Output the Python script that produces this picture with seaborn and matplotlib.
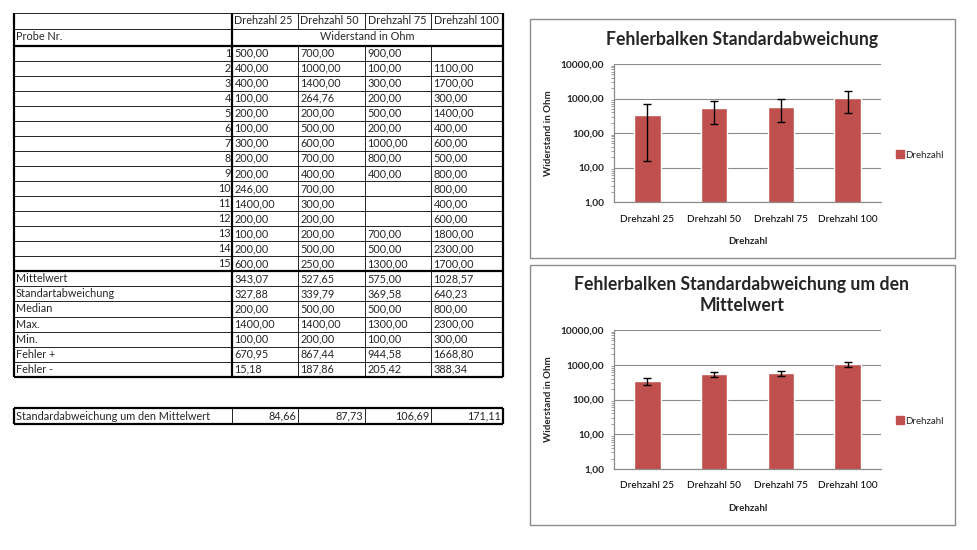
import matplotlib
matplotlib.use("Agg")
import matplotlib.pyplot as plt
from matplotlib.lines import Line2D
from matplotlib.patches import Rectangle
from matplotlib.ticker import FixedLocator, FuncFormatter, NullFormatter
import numpy as np
import pandas as pd
import seaborn as sns

# ---------------- data ----------------
categories = ["Drehzahl 25", "Drehzahl 50", "Drehzahl 75", "Drehzahl 100"]
probe_nr = list(range(1, 16))
d25 = [500, 400, 400, 100, 200, 100, 300, 200, 200, 246, 1400, 200, 100, 200, 600]
d50 = [700, 1000, 1400, 264.76, 200, 500, 600, 700, 400, 700, 300, 200, 200, 500, 250]
d75 = [900, 100, 300, 200, 500, 200, 1000, 800, 400, None, None, None, 700, 500, 1300]
d100 = [None, 1100, 1700, 300, 1400, 400, 600, 500, 800, 800, 400, 600, 1800, 2300, 1700]

stat_labels = ["Mittelwert", "Standartabweichung", "Median", "Max.", "Min.", "Fehler +", "Fehler -"]
mittelwert = [343.07, 527.65, 575.00, 1028.57]
std_abw = [327.88, 339.79, 369.58, 640.23]
median = [200.00, 500.00, 500.00, 800.00]
maximum = [1400.00, 1400.00, 1300.00, 2300.00]
minimum = [100.00, 200.00, 100.00, 300.00]
fehler_plus = [670.95, 867.44, 944.58, 1668.80]
fehler_minus = [15.18, 187.86, 205.42, 388.34]
sem_label = "Standardabweichung um den Mittelwert"
sem = [84.66, 87.73, 106.69, 171.11]

title1 = "Fehlerbalken Standardabweichung"
title2 = "Fehlerbalken Standardabweichung um den\nMittelwert"
ylabel = "Widerstand in Ohm"
xlabel = "Drehzahl"
legend_label = "Drehzahl"
yticks = [1, 10, 100, 1000, 10000]

BAR = "#C0504D"

def de(v):
    return f"{v:.2f}".replace(".", ",")

# ---------------- figure ----------------
sns.set_theme(style="white")
plt.rcParams["font.family"] = ["Lato", "DejaVu Sans"]

W, H = 977, 550
fig = plt.figure(figsize=(W / 100, H / 100), dpi=100)
fig.patch.set_facecolor("white")

tab = fig.add_axes([0, 0, 1, 1], zorder=0)
tab.set_xlim(0, W)
tab.set_ylim(H, 0)
tab.axis("off")

FS = 7.8
THIN = 0.6
THICK = 1.6

def hline(y, x0, x1, lw):
    tab.add_line(Line2D([x0, x1], [y, y], color="black", lw=lw, solid_capstyle="butt"))

def vline(x, y0, y1, lw):
    tab.add_line(Line2D([x, x], [y0, y1], color="black", lw=lw, solid_capstyle="butt"))

L, C0, R = 14, 232, 503
colx = [232, 298, 365, 431, 503]

# header
for i, c in enumerate(categories):
    tab.text(colx[i] + 2.5, 20.5, c, fontsize=FS, va="center", ha="left")
tab.text(16, 37, "Probe Nr.", fontsize=FS, va="center", ha="left")
tab.text((C0 + R) / 2, 37, "Widerstand in Ohm", fontsize=FS, va="center", ha="center")

# data rows
cols = [d25, d50, d75, d100]
row_top = 45.5
rh = 15.05
for r, n in enumerate(probe_nr):
    yc = row_top + rh * r + rh / 2
    tab.text(C0 - 1, yc, str(n), fontsize=FS, va="center", ha="right")
    for j, col in enumerate(cols):
        v = col[r]
        if v is not None:
            tab.text(colx[j] + 2.5, yc, de(v), fontsize=FS, va="center", ha="left")
data_bottom = row_top + rh * 15

# stats rows
stats = [mittelwert, std_abw, median, maximum, minimum, fehler_plus, fehler_minus]
sh = 15.1
for k, lab in enumerate(stat_labels):
    yc = data_bottom + sh * k + sh / 2
    tab.text(16, yc, lab, fontsize=FS, va="center", ha="left")
    for j in range(4):
        tab.text(colx[j] + 2.5, yc, de(stats[k][j]), fontsize=FS, va="center", ha="left")
stats_bottom = data_bottom + sh * 7

# lines of main table
hline(13, L, R, THIN)
hline(29, L, R, THIN)
hline(45.5, L, R, THICK)
for r in range(1, 15):
    hline(row_top + rh * r, L, R, THIN)
hline(data_bottom, L, R, THICK)
for k in range(1, 7):
    hline(data_bottom + sh * k, L, R, THIN)
hline(stats_bottom, L, R, THICK)
vline(L, 13, stats_bottom, THICK)
vline(R, 13, stats_bottom, THICK)
vline(C0, 13, stats_bottom, THICK)
for x in colx[1:4]:
    vline(x, 13, 29, THIN)
    vline(x, 45.5, stats_bottom, THIN)

# bottom table (SEM)
by0, by1 = 408, 424
tab.text(16, (by0 + by1) / 2, sem_label, fontsize=FS, va="center", ha="left")
for j in range(4):
    tab.text(colx[j + 1] - 2, (by0 + by1) / 2, de(sem[j]), fontsize=FS, va="center", ha="right")
hline(by0, L, R, THICK)
hline(by1, L, R, THICK)
vline(L, by0, by1, THICK)
vline(R, by0, by1, THICK)
for x in colx[:4]:
    vline(x, by0, by1, THIN)

# chart frames
tab.add_patch(Rectangle((530, 19), 425, 239, fill=False, ec="#8c8c8c", lw=1.0))
tab.add_patch(Rectangle((530, 265), 425, 260, fill=False, ec="#8c8c8c", lw=1.0))

# ---------------- charts ----------------
df = pd.DataFrame({"Drehzahl": categories, "Widerstand": mittelwert})

def make_chart(top_px, bottom_px, err, title, title_y, legend_y):
    ax = fig.add_axes([614 / W, (H - bottom_px) / H, 267 / W, (bottom_px - top_px) / H], zorder=1)
    ax.set_facecolor("white")
    ax.set_yscale("log")
    ax.set_ylim(1, 10000)
    ax.yaxis.set_major_locator(FixedLocator(yticks))
    ax.yaxis.set_major_formatter(FuncFormatter(lambda v, p: de(v)))
    ax.yaxis.set_minor_locator(FixedLocator([m * 10 ** e for e in range(0, 4) for m in range(2, 10)]))
    ax.yaxis.set_minor_formatter(NullFormatter())
    ax.grid(axis="y", which="major", color="#8c8c8c", lw=0.8, zorder=0)
    ax.set_axisbelow(True)
    sns.barplot(data=df, x="Drehzahl", y="Widerstand", color=BAR, saturation=1,
                width=0.4, errorbar=None, ax=ax, zorder=2)
    ax.errorbar(range(len(categories)), mittelwert, yerr=err, fmt="none",
                ecolor="black", elinewidth=1.0, capsize=2.8, capthick=1.0, zorder=3)
    ax.set_ylim(1, 10000)
    ax.set_xlim(-0.5, 3.5)
    ax.set_xticks(range(len(categories)))
    ax.set_xticklabels(categories, fontsize=7.2)
    ax.set_xticks([-0.5, 0.5, 1.5, 2.5, 3.5], minor=True)
    ax.tick_params(axis="x", which="major", length=0, pad=9, labelsize=7.2, colors="black")
    ax.tick_params(axis="x", which="minor", length=4, width=0.8, color="#8c8c8c", direction="out")
    ax.tick_params(axis="y", which="major", length=4, width=0.8, color="#8c8c8c",
                   direction="out", labelsize=7.3, pad=3)
    ax.tick_params(axis="y", which="minor", length=2, width=0.6, color="#8c8c8c", direction="out", left=True)
    for lab in ax.get_yticklabels():
        lab.set_fontweight("bold")
    for s in ["top", "right"]:
        ax.spines[s].set_visible(False)
    for s in ["left", "bottom"]:
        ax.spines[s].set_color("#8c8c8c")
        ax.spines[s].set_linewidth(0.9)
    ax.set_xlabel(xlabel, fontsize=7.0, fontweight="bold", labelpad=10)
    ax.set_ylabel(ylabel, fontsize=7.0, fontweight="bold", labelpad=5.5)
    tab.text(742, title_y, title, fontsize=12.7, fontweight="bold", ha="center", va="center",
             linespacing=1.35)
    handle = Line2D([], [], marker="s", color=BAR, ls="none", markersize=5.5)
    fig.legend([handle], [legend_label], loc="center left",
               bbox_to_anchor=(891 / W, (H - legend_y) / H),
               frameon=False, fontsize=7.0, handletextpad=0.1, handlelength=1.0,
               borderaxespad=0)
    return ax

make_chart(64, 202, std_abw, title1, 40, 155)
make_chart(330, 469, sem, title2, 295, 421)

fig.savefig("out.png", dpi=100, facecolor="white")
